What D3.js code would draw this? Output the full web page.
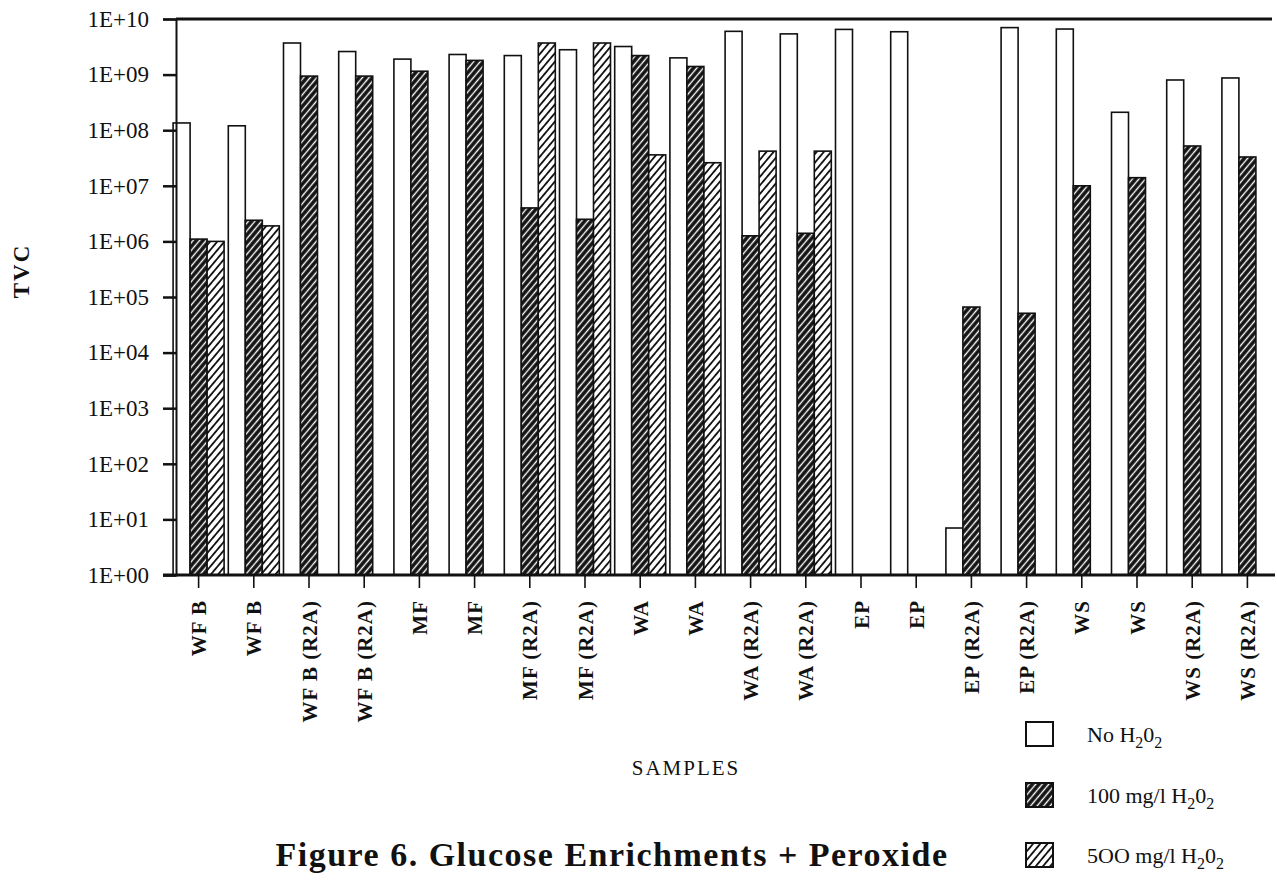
<!DOCTYPE html>
<html>
<head>
<meta charset="utf-8">
<script src="https://cdn.jsdelivr.net/npm/d3@7"></script>
<style>
  body { margin: 0; background: #fff; }
  svg text { font-family: "Liberation Serif", "Times New Roman", serif; fill: #111; }
</style>
</head>
<body>
<div id="chart"></div>
<script>
/*
------------------------------
DATA: values (TVC, log scale)
------------------------------
*/
let samples = ["WF B", "WF B", "WF B (R2A)", "WF B (R2A)", "MF", "MF", "MF (R2A)", "MF (R2A)",
  "WA", "WA", "WA (R2A)", "WA (R2A)", "EP", "EP", "EP (R2A)", "EP (R2A)", "WS", "WS", "WS (R2A)", "WS (R2A)"];

let noH2O2 = [1.35e8, 1.2e8, 3.7e9, 2.6e9, 1.9e9, 2.3e9, 2.2e9, 2.8e9, 3.2e9, 2.0e9,
  6.0e9, 5.4e9, 6.5e9, 5.9e9, 7, 7.0e9, 6.6e9, 2.1e8, 8.0e8, 8.7e8];

let h2o2_100 = [1.1e6, 2.4e6, 9.4e8, 9.4e8, 1.15e9, 1.8e9, 4.0e6, 2.5e6, 2.2e9, 1.4e9,
  1.26e6, 1.4e6, null, null, 6.6e4, 5.1e4, 1.0e7, 1.4e7, 5.2e7, 3.3e7];

let h2o2_500 = [1.0e6, 1.9e6, null, null, null, null, 3.7e9, 3.7e9, 3.6e7, 2.6e7,
  4.2e7, 4.2e7, null, null, null, null, null, null, null, null];

let yTicks = [1, 1e1, 1e2, 1e3, 1e4, 1e5, 1e6, 1e7, 1e8, 1e9, 1e10];

let seriesNames = ["No", "100 mg/l", "5OO mg/l"];

/*
------------------------------
METHOD: canvas
------------------------------
*/
let width = 1277;
let height = 884;
let margin = ({top: 19, right: 2, bottom: 309, left: 176});

let svg = d3.select("#chart")
  .append("svg")
  .attr("width", width)
  .attr("height", height);

let defs = svg.append("defs");

// dark hatch: black with thin white diagonals
let dark = defs.append("pattern")
  .attr("id", "darkHatch")
  .attr("patternUnits", "userSpaceOnUse")
  .attr("width", 5)
  .attr("height", 10)
  .attr("patternTransform", "rotate(40)");
dark.append("rect").attr("width", 5).attr("height", 10).attr("fill", "#111");
dark.append("line").attr("x1", 2.5).attr("y1", 0).attr("x2", 2.5).attr("y2", 10)
  .attr("stroke", "#fff").attr("stroke-width", 1.4);

// light hatch: white with black diagonals
let light = defs.append("pattern")
  .attr("id", "lightHatch")
  .attr("patternUnits", "userSpaceOnUse")
  .attr("width", 5.5)
  .attr("height", 10)
  .attr("patternTransform", "rotate(40)");
light.append("rect").attr("width", 5.5).attr("height", 10).attr("fill", "#fff");
light.append("line").attr("x1", 2.75).attr("y1", 0).attr("x2", 2.75).attr("y2", 10)
  .attr("stroke", "#111").attr("stroke-width", 1.8);

let fills = ["#fff", "url(#darkHatch)", "url(#lightHatch)"];

/*
------------------------------
METHOD: scales
------------------------------
*/
let plotBottom = height - margin.bottom;   // 575

let xScale = d3.scaleBand()
  .domain(d3.range(samples.length))
  .range([171, 1275])
  .padding(0);

let yScale = d3.scaleLog()
  .domain([1, 1e10])
  .range([plotBottom, margin.top]);

let barW = 17;

/*
------------------------------
METHOD: bars
------------------------------
*/
let seriesData = [noH2O2, h2o2_100, h2o2_500];
let bars = [];
seriesData.forEach(function(arr, s) {
  arr.forEach(function(v, i) {
    if (v != null) bars.push({i: i, s: s, v: v});
  });
});

svg.append("g")
  .selectAll("rect")
  .data(bars)
  .enter()
  .append("rect")
  .attr("x", function(d) { return xScale(d.i) + xScale.bandwidth() / 2 + (d.s - 1.5) * barW; })
  .attr("y", function(d) { return yScale(d.v); })
  .attr("width", barW)
  .attr("height", function(d) { return plotBottom - yScale(d.v); })
  .attr("fill", function(d) { return fills[d.s]; })
  .attr("stroke", "#111")
  .attr("stroke-width", 1.6);

/*
------------------------------
METHOD: axes
------------------------------
*/
let yAxis = d3.axisLeft(yScale)
  .tickValues(yTicks)
  .tickSize(13)
  .tickPadding(14)
  .tickFormat(function(d) {
    let e = Math.round(Math.log10(d));
    return "1E+" + (e < 10 ? "0" + e : e);
  });

let gy = svg.append("g")
  .attr("transform", "translate(" + margin.left + ",0)")
  .call(yAxis);
gy.select(".domain").attr("stroke", "#111").attr("stroke-width", 2);
gy.selectAll(".tick line").attr("stroke", "#111").attr("stroke-width", 2.5);
gy.selectAll(".tick text")
  .style("font-size", "23px")
  .style("font-family", "\"Liberation Serif\", serif")
  .attr("fill", "#111");

let xAxis = d3.axisBottom(xScale)
  .tickSize(13)
  .tickSizeOuter(0)
  .tickFormat(function(i) { return samples[i]; });

let gx = svg.append("g")
  .attr("transform", "translate(0," + plotBottom + ")")
  .call(xAxis);
gx.select(".domain").remove();
gx.selectAll(".tick line").attr("stroke", "#111").attr("stroke-width", 1.6);
gx.selectAll(".tick text")
  .attr("transform", "rotate(-90)")
  .attr("x", -25)
  .attr("y", 0)
  .attr("dy", "0.36em")
  .attr("text-anchor", "end")
  .style("font-size", "21px")
  .style("font-weight", "bold")
  .style("letter-spacing", "1px")
  .style("font-family", "\"Liberation Serif\", serif")
  .attr("fill", "#111");

// frame lines: heavy baseline and top rule
svg.append("line")
  .attr("x1", 163).attr("x2", 1275)
  .attr("y1", plotBottom).attr("y2", plotBottom)
  .attr("stroke", "#111").attr("stroke-width", 3);
svg.append("line")
  .attr("x1", margin.left).attr("x2", 1272)
  .attr("y1", margin.top).attr("y2", margin.top)
  .attr("stroke", "#111").attr("stroke-width", 3);

/*
------------------------------
METHOD: labels
------------------------------
*/
svg.append("text")
  .attr("transform", "translate(29,271) rotate(-90)")
  .attr("text-anchor", "middle")
  .style("font-size", "23px")
  .style("font-weight", "bold")
  .style("letter-spacing", "2px")
  .text("TVC");

svg.append("text")
  .attr("x", 686)
  .attr("y", 775)
  .attr("text-anchor", "middle")
  .style("font-size", "21px")
  .style("letter-spacing", "2px")
  .text("SAMPLES");

svg.append("text")
  .attr("x", 612)
  .attr("y", 866)
  .attr("text-anchor", "middle")
  .style("font-size", "34px")
  .style("font-weight", "bold")
  .style("letter-spacing", "1.5px")
  .text("Figure  6.  Glucose Enrichments + Peroxide");

/*
------------------------------
METHOD: legend
------------------------------
*/
let legendY = [722, 783, 843];
let legend = svg.append("g");
seriesNames.forEach(function(name, s) {
  legend.append("rect")
    .attr("x", 1026)
    .attr("y", legendY[s])
    .attr("width", 27)
    .attr("height", 24)
    .attr("fill", fills[s])
    .attr("stroke", "#111")
    .attr("stroke-width", 2);
  let t = legend.append("text")
    .attr("x", 1087)
    .attr("y", legendY[s] + 20)
    .style("font-size", "22px");
  t.append("tspan").text(name + " H");
  t.append("tspan").attr("dy", 6).style("font-size", "16px").text("2");
  t.append("tspan").attr("dy", -6).text("0");
  t.append("tspan").attr("dy", 6).style("font-size", "16px").text("2");
});
</script>
</body>
</html>
